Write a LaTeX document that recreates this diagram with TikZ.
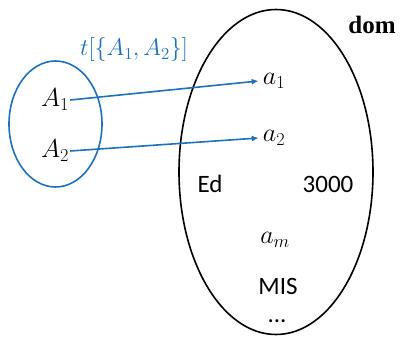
\documentclass[tikz,border=0pt]{standalone}
\usepackage{fix-cm}
\usepackage{fontspec}
\setmainfont{Carlito}
\newfontfamily\domfont{Liberation Serif}
\usetikzlibrary{arrows.meta}
\definecolor{oblue}{RGB}{31,112,184}
\tikzset{
  lbl/.style={inner sep=1pt, font=\fontsize{25}{29}\selectfont},
  mlbl/.style={inner sep=1pt, font=\fontsize{26}{30}\selectfont},
  maparrow/.style={oblue, line width=1.6pt, -{Latex[length=7pt,width=6pt]}},
}
\begin{document}
\begin{tikzpicture}[x=1pt,y=-1pt]
\useasboundingbox (0,0) rectangle (400,337);
% big domain ellipse
\draw[line width=1.6pt] (276,172) ellipse [x radius=97, y radius=162.5];
\node[inner sep=0, font=\domfont\bfseries\fontsize{25}{29}\selectfont] (dom) at (372,25) {dom};
% small blue ellipse
\draw[oblue, line width=1.6pt] (55.5,124) ellipse [x radius=46.5, y radius=63];
\node[inner sep=1pt, font=\fontsize{24}{28}\selectfont, text=oblue] (t) at (134,50) {$t[\{A_1,A_2\}]$};
\node[mlbl] (A1) at (55,100) {$A_1$};
\node[mlbl] (A2) at (55,151) {$A_2$};
\node[mlbl] (a1) at (274,81) {$a_1$};
\node[mlbl] (a2) at (274,138) {$a_2$};
\node[lbl] (Ed) at (210,184) {Ed};
\node[lbl] (n3000) at (328,184) {3000};
\node[mlbl] (am) at (275,240) {$a_m$};
\node[lbl] (MIS) at (278,286) {MIS};
\node[lbl] (dots) at (277,321) {...};
\draw[maparrow] (A1.east) -- ([xshift=-3pt]a1.west);
\draw[maparrow] (A2.east) -- ([xshift=-3pt]a2.west);
\end{tikzpicture}
\end{document}
